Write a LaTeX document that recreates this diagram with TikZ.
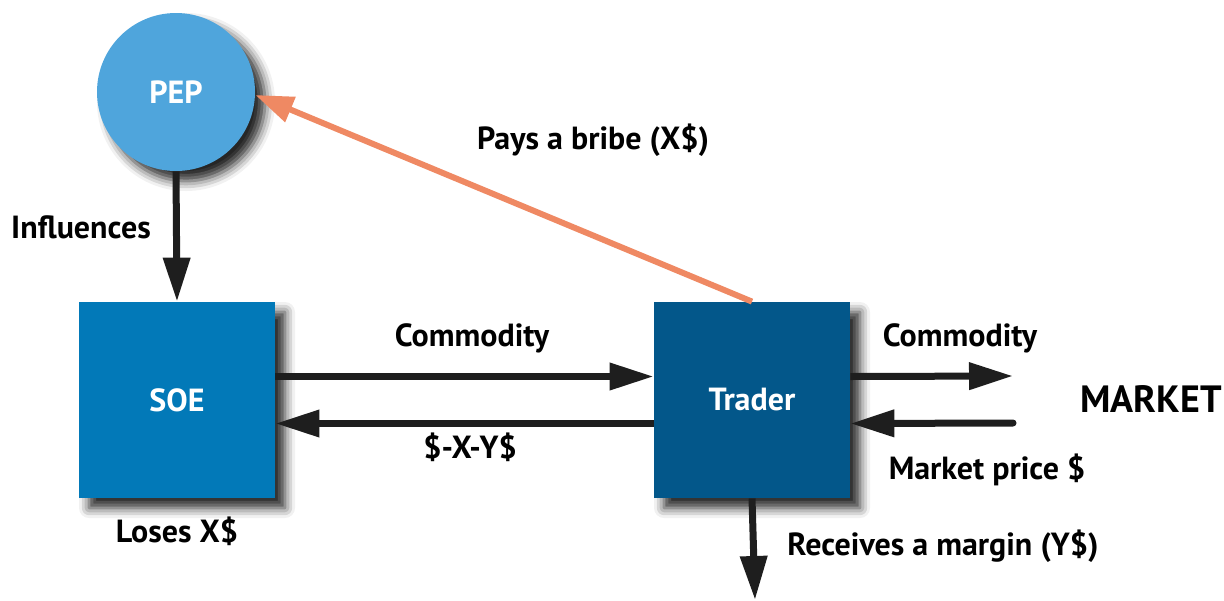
\documentclass[tikz,border=0pt]{standalone}
\usepackage{fontspec}
\setmainfont{PT Sans}
\usetikzlibrary{arrows.meta, shadows.blur}
\definecolor{pepblue}{HTML}{4FA5DC}
\definecolor{soeblue}{HTML}{0279B8}
\definecolor{tradeblue}{HTML}{03578A}
\definecolor{bribe}{HTML}{EF8963}
\definecolor{arrowblack}{HTML}{1E1E1E}
\tikzset{
  dropshadow/.style={blur shadow={shadow xshift=5pt, shadow yshift=-5pt, shadow blur radius=5pt, shadow opacity=85}},
  box/.style={minimum size=98pt, inner sep=0pt, text=white, font=\bfseries\fontsize{16}{19}\selectfont, dropshadow},
  flow/.style={line width=3.5pt, draw=arrowblack, -{Triangle[length=22pt,width=13pt]}},
  lbl/.style={font=\bfseries\fontsize{16}{19}\selectfont}
}
\begin{document}
\begin{tikzpicture}[x=0.5pt, y=-0.5pt]
\useasboundingbox (0,0) rectangle (1224,600);
% actors
\node (pep) at (176,92) [circle, minimum size=79pt, inner sep=0pt, fill=pepblue, text=white, font=\bfseries\fontsize{16}{19}\selectfont, dropshadow] {PEP};
\node (soe) at (177,400) [box, fill=soeblue] {SOE};
\node (trader) at (752,400) [box, fill=tradeblue] {Trader};
\coordinate (mktout) at (1013,376);
\coordinate (mktin) at (1013,423);
\coordinate (margin) at (755,600);
% flows
\draw[bribe, line width=3pt, -{Triangle[length=19pt,width=13pt]}] (trader.north) -- ([yshift=-1.5pt]pep.east);
\draw[flow] (pep.south) -- (soe.north);
\draw[flow] ([yshift=11.75pt]soe.east) -- ([yshift=11.75pt]trader.west);
\draw[flow] ([yshift=-11.75pt]trader.west) -- ([yshift=-11.75pt]soe.east);
\draw[flow] ([yshift=11.75pt]trader.east) -- (mktout);
\draw[flow, line cap=round] (mktin) -- ([yshift=-11.75pt]trader.east);
\draw[flow] (trader.south) -- (margin);
% labels
\node (infl) at (81,227) [lbl] {Influences};
\node (bribelbl) at (593,140) [lbl] {Pays a bribe (X\$)};
\node (comm1) at (472,338) [lbl] {Commodity};
\node (price1) at (470,447) [lbl] {\$-X-Y\$};
\node (comm2) at (960,338) [lbl] {Commodity};
\node (market) at (1222,399) [anchor=east, inner sep=0pt, font=\bfseries\fontsize{19}{23}\selectfont] {MARKET};
\node (price2) at (987,470) [lbl] {Market price \$};
\node (loses) at (177,531) [lbl] {Loses X\$};
\node (recv) at (943,546) [lbl] {Receives a margin (Y\$)};
\end{tikzpicture}
\end{document}
